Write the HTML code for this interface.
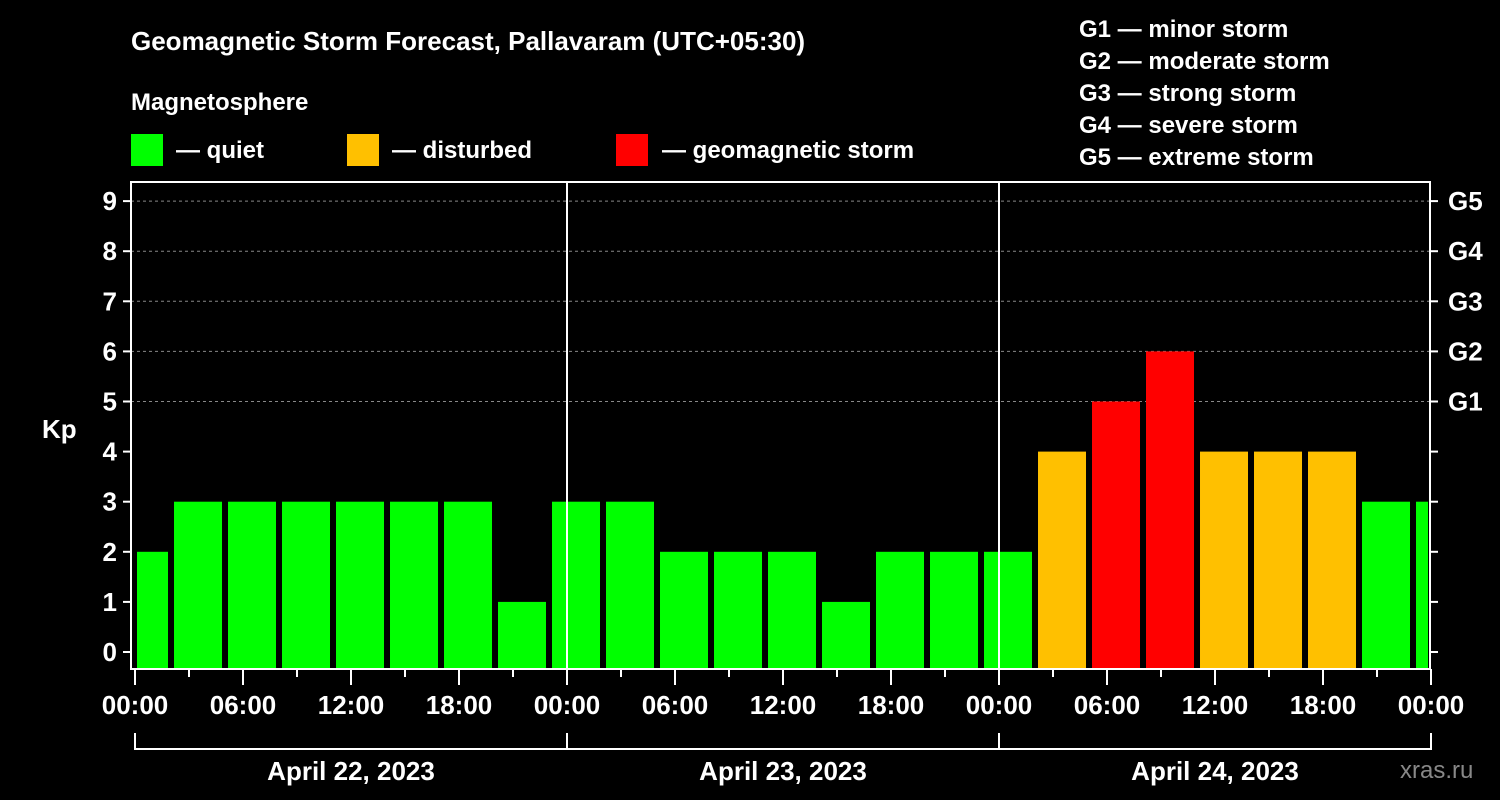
<!DOCTYPE html>
<html><head><meta charset="utf-8"><style>
html,body{margin:0;padding:0;background:#000;}
svg{display:block;font-family:"Liberation Sans",Arial,sans-serif;font-weight:bold;}
</style></head><body>
<svg id="chart" width="1500" height="800" viewBox="0 0 1500 800">
<rect width="1500" height="800" fill="#000"/>
<text x="131" y="50" fill="#fff" font-size="26">Geomagnetic Storm Forecast, Pallavaram (UTC+05:30)</text>
<text x="131" y="110" fill="#fff" font-size="24">Magnetosphere</text>
<g><rect x="131" y="134" width="32" height="32" fill="#00ff00"/><text x="176" y="158" fill="#fff" font-size="24">— quiet</text></g>
<g><rect x="347" y="134" width="32" height="32" fill="#ffc000"/><text x="392" y="158" fill="#fff" font-size="24">— disturbed</text></g>
<g><rect x="616" y="134" width="32" height="32" fill="#ff0000"/><text x="662" y="158" fill="#fff" font-size="24">— geomagnetic storm</text></g>
<g fill="#fff" font-size="24">
<text x="1079" y="37">G1 — minor storm</text>
<text x="1079" y="69">G2 — moderate storm</text>
<text x="1079" y="101">G3 — strong storm</text>
<text x="1079" y="133">G4 — severe storm</text>
<text x="1079" y="165">G5 — extreme storm</text>
</g>
<text x="42" y="438" fill="#fff" font-size="26">Kp</text>
<text x="1400" y="778" fill="#888" font-size="24" font-weight="normal">xras.ru</text>
<g id="plot"></g>
</svg>
<script>
const kpValues = [2,3,3,3,3,3,3,1,3,3,2,2,2,1,2,2,2,4,5,6,4,4,4,3,3];
const dayLabels = ["April 22, 2023","April 23, 2023","April 24, 2023"];
const hourLabels = ["00:00","06:00","12:00","18:00"];
const gLabels = ["G1","G2","G3","G4","G5"];
const kpTicks = [0,1,2,3,4,5,6,7,8,9];

const L=131,R=1430,T=182,B=669,X0=135,DAY=432;
const xh = h => X0 + h*DAY/24;
const y = v => 652 - v*50.1;
const NS="http://www.w3.org/2000/svg";
const g=document.getElementById('plot');
function mk(tag,attrs){const e=document.createElementNS(NS,tag);for(const k in attrs)e.setAttribute(k,attrs[k]);g.appendChild(e);return e;}

// grid
for(let v=5;v<=9;v++){
  const l=mk('line',{x1:L,x2:R,y1:y(v),y2:y(v),stroke:'#888','stroke-dasharray':'3,3','stroke-width':1});
  
  
}
// bars
kpValues.forEach((v,k)=>{
  let x1=xh(3*k-0.833), x2=x1+48;
  x1=Math.max(x1,X0+2); x2=Math.min(x2,R-2);
  if(x2<=x1)return;
  const c=v>=5?'#ff0000':(v>=4?'#ffc000':'#00ff00');
  const r=mk('rect',{x:x1,y:y(v),width:x2-x1,height:B-1-y(v),fill:c});
  
  
});
// day separators
for(let d=1;d<3;d++){
  const l=mk('line',{x1:xh(24*d),x2:xh(24*d),y1:T,y2:B,stroke:'#fff','stroke-width':2});
  
  
}
// frame
const fr=mk('rect',{x:L,y:T,width:R-L,height:B-T,fill:'none',stroke:'#fff','stroke-width':2});


// y ticks
kpTicks.forEach(v=>{
  mk('line',{x1:L-8,x2:L,y1:y(v),y2:y(v),stroke:'#fff','stroke-width':2});
  mk('line',{x1:R,x2:R+8,y1:y(v),y2:y(v),stroke:'#fff','stroke-width':2});
  const t=mk('text',{x:L-14,y:y(v)+9,fill:'#fff','font-size':26,'text-anchor':'end'});
  t.textContent=v;
  
  
});
gLabels.forEach((s,i)=>{
  const t=mk('text',{x:1448,y:y(i+5)+9,fill:'#fff','font-size':26});
  t.textContent=s;
  
  
});
// x ticks
for(let h=0;h<=72;h+=3){
  const major=h%6===0;
  mk('line',{x1:xh(h),x2:xh(h),y1:B,y2:B+(major?16:8),stroke:'#fff','stroke-width':2});
  if(major){
    const t=mk('text',{x:xh(h),y:714,fill:'#fff','font-size':26,'text-anchor':'middle'});
    t.textContent=hourLabels[(h/6)%4];
    
    
  }
}
// day brackets
mk('line',{x1:X0,x2:xh(72),y1:749,y2:749,stroke:'#fff','stroke-width':2});
for(let d=0;d<=3;d++) mk('line',{x1:xh(24*d),x2:xh(24*d),y1:733,y2:750,stroke:'#fff','stroke-width':2});
dayLabels.forEach((s,d)=>{
  const t=mk('text',{x:xh(24*d+12),y:780,fill:'#fff','font-size':26,'text-anchor':'middle'});
  t.textContent=s;
  
  
});
</script>
</body></html>
